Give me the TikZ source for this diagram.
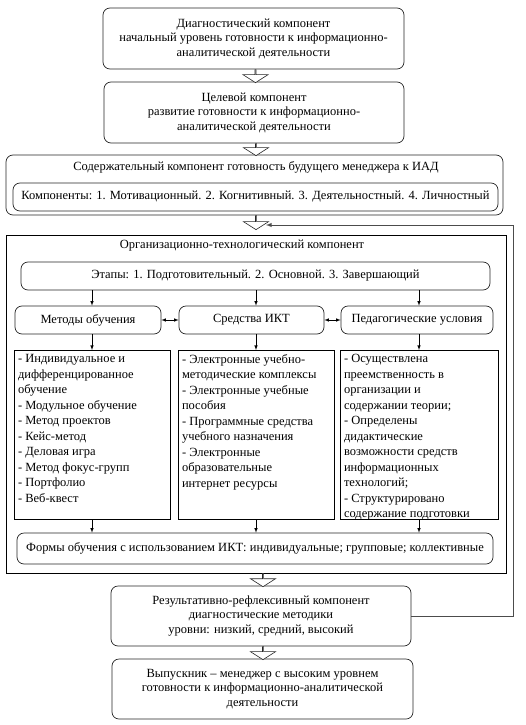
\documentclass[tikz,border=0pt]{standalone}
\usepackage{fontspec}
\setmainfont{Liberation Serif}
\usetikzlibrary{shapes,arrows,calc}
\newcommand{\listbox}[2]{\parbox[t][161pt][t]{#1}{\fontsize{12.5}{15.5}\selectfont\raggedright #2}}

\begin{document}
\begin{tikzpicture}[x=1pt,y=-1pt,
	font=\rmfamily\fontsize{12.5}{14.5}\selectfont,
	rbox/.style={draw=black!85, line width=0.7pt, rounded corners=7pt, align=center, inner sep=2pt},
	lbox/.style={draw, line width=0.7pt, inner sep=4pt, anchor=north},
	barrow/.style={draw=black!85, line width=0.6pt, fill=white, single arrow, shape border rotate=270,
		minimum width=25pt, single arrow head extend=6.5pt, single arrow tip angle=115,
		inner sep=0pt, anchor=tail},
	sarrow/.style={-latex, line width=0.6pt},
	fbline/.style={draw=black!70, line width=0.9pt, -latex}]
	\useasboundingbox (0,0) rectangle (526,725);

	% chain of components, top
	\node[rbox, minimum width=301pt, minimum height=61pt] (diag) at (253.5,38.5)
		{Диагностический компонент\\начальный уровень готовности к информационно-\\аналитической деятельности};
	\node[rbox, minimum width=300pt, minimum height=61pt] (goal) at (254,112.5)
		{Целевой компонент\\развитие готовности к информационно-\\аналитической деятельности};
	\node[rbox, minimum width=497pt, minimum height=60pt] (cont) at (254.5,185) {};
	\node (conttitle) at (256,167) {Содержательный компонент готовность будущего менеджера к ИАД};
	\node[rbox, minimum width=485pt, minimum height=28pt] (comp) at (255.5,197)
		{Компоненты: 1. Мотивационный. 2. Когнитивный. 3. Деятельностный. 4. Личностный};

	\node[barrow, minimum height=13pt] (a1) at ($(diag.south)+(2,0)$) {};
	\node[barrow, minimum height=12pt] (a2) at ($(goal.south)+(2,0)$) {};

	% organisational block
	\node[draw, line width=0.8pt, minimum width=500pt, minimum height=338pt, inner sep=0pt] (org) at (256,404) {};
	\node (orgtitle) at (242,246) {Организационно-технологический компонент};
	\node[barrow, minimum height=14pt] (a3) at ($(cont.south)+(1.5,0)$) {};
	\coordinate (fbend) at (266,225);

	\node[rbox, minimum width=469pt, minimum height=28pt] (etap) at (255.5,276)
		{Этапы: 1. Подготовительный. 2. Основной. 3. Завершающий};

	\node[rbox, minimum width=146pt, minimum height=28pt] (meth) at (88,320) {Методы обучения};
	\node[rbox, minimum width=145pt, minimum height=28pt] (ict) at (251.5,320) {Средства ИКТ};
	\node[rbox, minimum width=152pt, minimum height=28pt] (ped) at (417,320) {Педагогические условия};

	\node[lbox] (mlist) at (92,350) {\listbox{148pt}{- Индивидуальное и\\дифференцированное\\обучение\\- Модульное обучение\\- Метод проектов\\- Кейс-метод\\- Деловая игра\\- Метод фокус-групп\\- Портфолио\\- Веб-квест}};
	\node[lbox] (ilist) at (256,350) {\listbox{148pt}{- Электронные учебно-\\методические комплексы\\- Электронные учебные\\пособия\\- Программные средства\\учебного назначения\\- Электронные\\образовательные\\интернет ресурсы}};
	\node[lbox] (plist) at (419,350) {\listbox{150pt}{- Осуществлена\\преемственность в\\организации и\\содержании теории;\\- Определены\\дидактические\\возможности средств\\информационных\\технологий;\\- Структурировано\\содержание подготовки}};

	\node[rbox, minimum width=476pt, minimum height=31pt] (forms) at (255,548.5)
		{Формы обучения с использованием ИКТ: индивидуальные; групповые; коллективные};

	\draw[sarrow] (mlist.north |- etap.south) -- (mlist.north |- meth.north);
	\draw[sarrow] (ilist.north |- etap.south) -- (ilist.north |- ict.north);
	\draw[sarrow] (plist.north |- etap.south) -- (plist.north |- ped.north);
	\draw[latex-latex, line width=0.6pt] (meth.east) -- (ict.west);
	\draw[latex-latex, line width=0.6pt] (ict.east) -- (ped.west);
	\draw[sarrow] (mlist.north |- meth.south) -- (mlist.north);
	\draw[sarrow] (ilist.north |- ict.south) -- (ilist.north);
	\draw[sarrow] (plist.north |- ped.south) -- (plist.north);
	\draw[sarrow] (mlist.south) -- (mlist.south |- forms.north);
	\draw[sarrow] (ilist.south) -- (ilist.south |- forms.north);
	\draw[sarrow] (plist.south) -- (plist.south |- forms.north);

	% result and graduate
	\node[rbox, minimum width=300pt, minimum height=60pt] (res) at (261,616)
		{Результативно-рефлексивный компонент\\диагностические методики\\уровни: низкий, средний, высокий};
	\node[rbox, minimum width=301pt, minimum height=60pt] (grad) at (262.5,689)
		{Выпускник -- менеджер с высоким уровнем\\готовности к информационно-аналитической\\деятельности};
	\node[barrow, minimum height=13pt] (a4) at ($(org.south)+(7,0)$) {};
	\node[barrow, minimum height=13pt] (a5) at ($(res.south)+(2,0)$) {};

	\draw[fbline] (res.east) -- ++(102,0) |- (fbend);
\end{tikzpicture}
\end{document}
